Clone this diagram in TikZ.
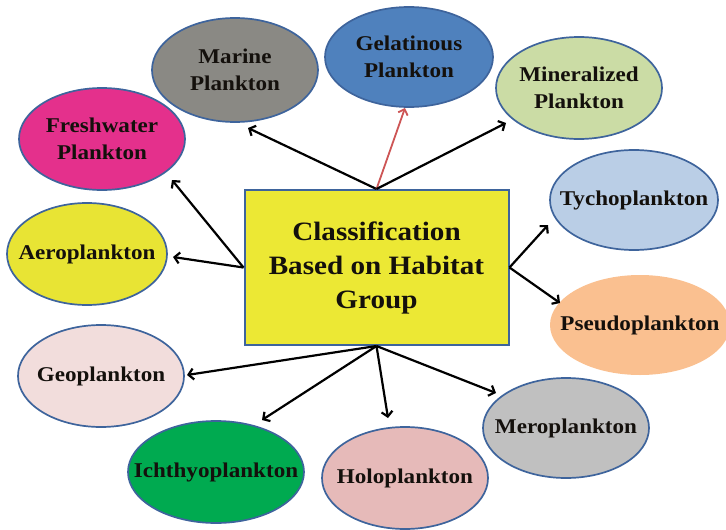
\documentclass[tikz,border=0pt]{standalone}
\usepackage{fontspec}
\setmainfont{Liberation Serif}[FakeStretch=1.1]
\usetikzlibrary{shapes.geometric,arrows.meta}
\definecolor{ellborder}{RGB}{62,100,156}
\definecolor{boxfill}{RGB}{236,232,52}
\definecolor{marinefill}{RGB}{138,137,132}
\definecolor{gelfill}{RGB}{79,129,189}
\definecolor{minfill}{RGB}{203,220,165}
\definecolor{freshfill}{RGB}{228,48,140}
\definecolor{aerofill}{RGB}{232,228,52}
\definecolor{tychofill}{RGB}{186,206,230}
\definecolor{pseudofill}{RGB}{250,192,144}
\definecolor{geofill}{RGB}{242,221,220}
\definecolor{ichfill}{RGB}{0,170,80}
\definecolor{holofill}{RGB}{230,186,185}
\definecolor{merofill}{RGB}{192,192,192}
\definecolor{redarrow}{RGB}{205,85,85}
\definecolor{txt}{RGB}{20,16,12}
\begin{document}
\begin{tikzpicture}[x=1pt,y=-1pt,
  blob/.style={ellipse, draw=ellborder, line width=1.7pt, inner sep=0pt,
    minimum width=166pt, minimum height=102pt},
  lab/.style={font=\bfseries\fontsize{21}{27}\selectfont, align=center, text=txt, inner sep=0pt},
  mainbox/.style={draw=ellborder, fill=boxfill, line width=2pt,
    minimum width=264pt, minimum height=155pt, align=center, text=txt,
    font=\bfseries\fontsize{26.5}{34}\selectfont},
  arr/.style={line width=2.2pt, black, -{Straight Barb[length=5pt,width=11pt]}},
  redarr/.style={line width=1.8pt, redarrow, -{Straight Barb[length=5pt,width=10pt]}}]
\clip (0,0) rectangle (726,530);
\useasboundingbox (0,0) rectangle (726,530);

\node[blob, fill=marinefill, minimum height=104pt, label={[lab]center:{Marine\\Plankton}}] (marine) at (235,70) {};
\node[blob, fill=gelfill, minimum width=168pt, minimum height=100pt, label={[lab]center:{Gelatinous\\Plankton}}] (gel) at (409,57) {};
\node[blob, fill=minfill, label={[lab]center:{Mineralized\\Plankton}}] (mineral) at (579,88) {};
\node[blob, fill=freshfill, label={[lab]center:{Freshwater\\Plankton}}] (fresh) at (102,139) {};
\node[blob, fill=aerofill, minimum width=160pt, label={[lab]center:{Aeroplankton}}] (aero) at (87,254) {};
\node[blob, fill=tychofill, minimum width=168pt, minimum height=100pt, label={[lab]center:{Tychoplankton}}] (tycho) at (634,200) {};
\node[blob, fill=pseudofill, draw=none, minimum width=180pt, minimum height=100pt, label={[lab]center:{Pseudoplankton}}] (pseudo) at (640,325) {};
\node[blob, fill=geofill, label={[lab]center:{Geoplankton}}] (geo) at (101,376) {};
\node[blob, fill=ichfill, minimum width=176pt, label={[lab]center:{Ichthyoplankton}}] (ichthyo) at (216,472) {};
\node[blob, fill=holofill, label={[lab]center:{Holoplankton}}] (holo) at (405,478) {};
\node[blob, fill=merofill, minimum height=100pt, label={[lab]center:{Meroplankton}}] (mero) at (566,428) {};

\node[mainbox] (box) at (376.5,267.5) {Classification\\Based on Habitat\\Group};

\draw[arr] (box.north) -- ([shift={(13,58)}]marine.center);
\draw[redarr] (box.north) -- ([shift={(-4,51)}]gel.center);
\draw[arr] (box.north) -- ([shift={(-73,35)}]mineral.center);
\draw[arr] (box.west) -- ([shift={(70,41)}]fresh.center);
\draw[arr] (box.west) -- ([shift={(86,3)}]aero.center);
\draw[arr] (box.east) -- ([shift={(-86,25)}]tycho.center);
\draw[arr] (box.east) -- ([shift={(-80,-22)}]pseudo.center);
\draw[arr] (box.south) -- ([shift={(86,-1)}]geo.center);
\draw[arr] (box.south) -- ([shift={(46,-52)}]ichthyo.center);
\draw[arr] (box.south) -- ([shift={(-17,-60)}]holo.center);
\draw[arr] (box.south) -- ([shift={(-70,-35)}]mero.center);
\end{tikzpicture}
\end{document}
